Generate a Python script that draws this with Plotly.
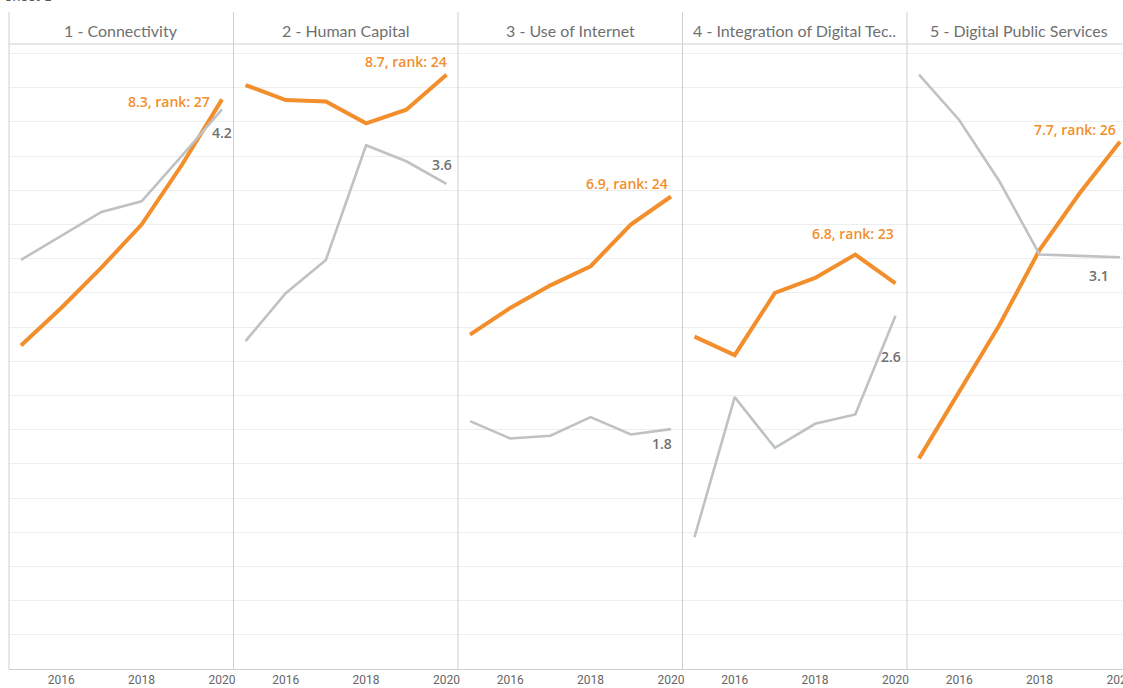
import plotly.graph_objects as go

# years on the x axis of every panel
years = [2015, 2016, 2017, 2018, 2019, 2020]

# panel headers
pillars = [
    "1 - Connectivity",
    "2 - Human Capital",
    "3 - Use of Internet",
    "4 - Integration of Digital Tec..",
    "5 - Digital Public Services",
]

# orange series (score), one list per panel
connectivity_score = [4.73, 5.28, 5.87, 6.50, 7.37, 8.33]
human_capital_score = [8.54, 8.32, 8.30, 7.98, 8.18, 8.69]
internet_score = [4.89, 5.28, 5.61, 5.89, 6.50, 6.91]
integration_score = [4.86, 4.59, 5.50, 5.72, 6.06, 5.64]
public_services_score = [3.08, 4.05, 5.03, 6.13, 6.96, 7.71]

# grey series (second measure), one list per panel
connectivity_other = [3.07, 3.25, 3.43, 3.51, 3.85, 4.20]
human_capital_other = [2.46, 2.82, 3.07, 3.93, 3.81, 3.64]
internet_other = [1.86, 1.73, 1.75, 1.89, 1.76, 1.80]
integration_other = [0.99, 2.04, 1.66, 1.84, 1.91, 2.65]
public_services_other = [4.46, 4.12, 3.66, 3.11, 3.10, 3.09]

# end labels
score_labels = ["8.3, rank: 27", "8.7, rank: 24", "6.9, rank: 24", "6.8, rank: 23", "7.7, rank: 26"]
other_labels = ["4.2", "3.6", "1.8", "2.6", "3.1"]

scores = [connectivity_score, human_capital_score, internet_score, integration_score, public_services_score]
others = [connectivity_other, human_capital_other, internet_other, integration_other, public_services_other]

ORANGE = "#f28e2b"
GREY = "#bfc2c4"
TEXT_GREY = "#707070"
SEP = "#cfcfcf"

W, H = 1123, 688
ML, MR, MT, MB = 9, 0, 44, 19
plot_w = W - ML - MR
plot_h = H - MT - MB
panel_px = 224.5
px_per_year = 40.2
left_pad = 12

# label nudges (pixels) relative to the last point of each line
score_shift = [(-10, -2), (2, 13), (-1, 13), (0, 50), (-2, 12)]
other_shift = [(0, -23), (-5, 19), (-9, -14), (-5, -41), (-21, -18)]

fig = go.Figure()

for i in range(5):
    n = i + 1
    x0 = i * panel_px
    x1 = min(x0 + panel_px, plot_w)
    xa = "x" if n == 1 else f"x{n}"
    ya = "y" if n == 1 else f"y{n}"
    ya2 = f"y{n + 5}"

    fig.add_trace(go.Scatter(
        x=years, y=others[i], mode="lines",
        line=dict(color=GREY, width=2.6),
        xaxis=xa, yaxis=ya2, showlegend=False, hoverinfo="x+y",
    ))
    fig.add_trace(go.Scatter(
        x=years, y=scores[i], mode="lines",
        line=dict(color=ORANGE, width=4),
        xaxis=xa, yaxis=ya, showlegend=False, hoverinfo="x+y",
    ))

    start = years[0] - left_pad / px_per_year
    end = start + (x1 - x0) / px_per_year
    xkey = "xaxis" if n == 1 else f"xaxis{n}"
    ykey = "yaxis" if n == 1 else f"yaxis{n}"
    fig.layout[xkey] = dict(
        domain=[x0 / plot_w, x1 / plot_w], range=[start, end], anchor=ya,
        tickvals=[2016, 2018, 2020], ticktext=["2016", "2018", "2020"],
        showgrid=False, zeroline=False, showline=True, linecolor=SEP, linewidth=1,
        ticks="", ticklabeloverflow="allow", automargin=False,
        tickfont=dict(family="Liberation Sans Narrow, Roboto, sans-serif", size=12, color="#666666"),
        fixedrange=True,
    )
    fig.layout[ykey] = dict(
        domain=[0, 1], range=[0, 9.14], anchor=xa, dtick=0.5,
        showgrid=True, gridcolor="#eeeeee", gridwidth=1, automargin=False,
        zeroline=False, showticklabels=False, ticks="", fixedrange=True,
    )
    fig.layout[f"yaxis{n + 5}"] = dict(
        overlaying=ya, range=[0, 4.69], visible=False, anchor=xa,
        automargin=False, fixedrange=True,
    )

    # panel header
    fig.add_annotation(
        text=pillars[i], xref="paper", yref="paper",
        x=(x0 + panel_px / 2) / plot_w, xanchor="center",
        y=1, yanchor="bottom", yshift=2, showarrow=False,
        font=dict(family="Lato, sans-serif", size=16, color="#707070"),
    )
    # left separator of the panel
    fig.add_shape(
        type="line", xref="paper", yref="paper",
        x0=x0 / plot_w, x1=x0 / plot_w, y0=0, y1=1 + 32 / plot_h,
        line=dict(color=SEP, width=1),
    )

    dx, dy = score_shift[i]
    fig.add_annotation(
        text=score_labels[i], xref=xa, yref=ya, x=years[-1], y=scores[i][-1],
        xanchor="right", yanchor="middle", xshift=dx, yshift=dy, showarrow=False,
        font=dict(family="Open Sans, sans-serif", size=14, color=ORANGE, weight=600),
    )
    dx, dy = other_shift[i]
    fig.add_annotation(
        text=other_labels[i], xref=xa, yref=ya2, x=years[-1], y=others[i][-1],
        xanchor="center", yanchor="middle", xshift=dx, yshift=dy, showarrow=False,
        font=dict(family="Open Sans, sans-serif", size=14, color=TEXT_GREY, weight=600),
    )

# header rule
fig.add_shape(type="line", xref="paper", yref="paper", x0=0, x1=1, y0=1, y1=1,
              line=dict(color=SEP, width=1))

# sheet title, mostly cut off by the top of the page
fig.add_annotation(text="Sheet 1", xref="paper", yref="paper", x=0, y=1 + 38 / plot_h,
                   xanchor="left", yanchor="bottom", xshift=-6, showarrow=False,
                   font=dict(family="Lato, sans-serif", size=14, color="#555555"))

fig.update_layout(
    width=W, height=H,
    margin=dict(l=ML, r=MR, t=MT, b=MB, autoexpand=False),
    paper_bgcolor="white", plot_bgcolor="white",
    showlegend=False,
)

# drop the default page margin so the figure fills the window exactly
fig.write_html(
    "out.html",
    config={"displayModeBar": False},
    post_script="document.body.style.margin='0';document.body.style.overflow='hidden';",
)
